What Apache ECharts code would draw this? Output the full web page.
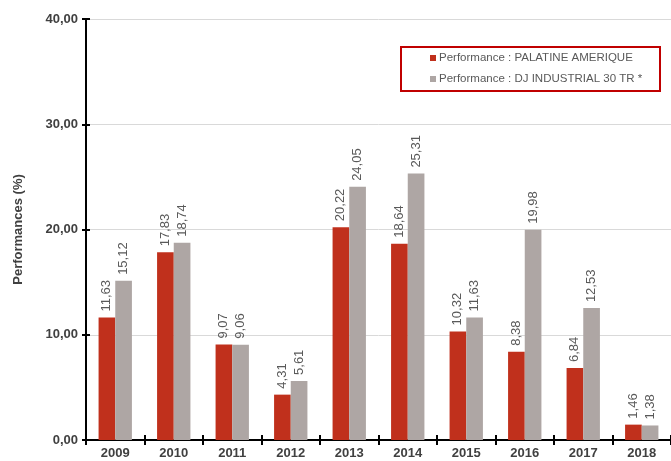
<!DOCTYPE html>
<html><head><meta charset="utf-8">
<script src="https://cdn.jsdelivr.net/npm/echarts@6/dist/echarts.min.js"></script>
<style>html,body{margin:0;padding:0;background:#fff}#c{width:671px;height:461px}</style>
</head><body><div id="c"></div>
<script>
const years = ['2009','2010','2011','2012','2013','2014','2015','2016','2017','2018'];
const palatine = [11.63,17.83,9.07,4.31,20.22,18.64,10.32,8.38,6.84,1.46];
const djIndustrial = [15.12,18.74,9.06,5.61,24.05,25.31,11.63,19.98,12.53,1.38];
const seriesNames = ['Performance : PALATINE AMERIQUE','Performance : DJ INDUSTRIAL 30 TR *'];
const yTicks = [0,10,20,30,40];

const fmt = v => v.toFixed(2).replace('.', ',');
const FONT = '"Liberation Sans", Arial, sans-serif';
const chart = echarts.init(document.getElementById('c'), null, {renderer:'canvas'});
const labelCfg = {
  show:true, rotate:90, position:'top', align:'left', verticalAlign:'middle', distance:6,
  fontFamily:FONT, fontSize:13, color:'#595959', formatter:p=>fmt(p.value)
};
chart.setOption({
  animation:false,
  textStyle:{fontFamily:FONT},
  grid:{left:86, right:0, top:19, bottom:21, containLabel:false},
  legend:{
    orient:'vertical', left:425, top:47, itemWidth:6, itemHeight:6, itemGap:9, icon:'rect',
    textStyle:{fontFamily:FONT, fontSize:11.5, color:'#595959', padding:[0,0,0,-2]},
    data:seriesNames
  },
  graphic:[{type:'rect', shape:{x:401, y:47, width:259, height:44}, style:{fill:'none', stroke:'#C00000', lineWidth:2}}],
  xAxis:[{
    type:'category', data:years,
    axisLine:{lineStyle:{color:'#000', width:2}},
    axisTick:{show:true, length:5, lineStyle:{color:'#000', width:2}},
    axisLabel:{fontFamily:FONT, fontSize:13, fontWeight:'bold', color:'#404040', margin:7}
  },{
    type:'category', data:years, position:'bottom',
    axisLine:{show:false},
    axisTick:{show:true, inside:true, length:5, lineStyle:{color:'#000', width:2}},
    axisLabel:{show:false}
  }],
  yAxis:[{
    type:'value', min:yTicks[0], max:yTicks[yTicks.length-1], interval:10,
    name:'Performances (%)', nameLocation:'middle', nameGap:61, nameRotate:90,
    nameTextStyle:{fontFamily:FONT, fontSize:13, fontWeight:'bold', color:'#404040'},
    axisLine:{show:true, lineStyle:{color:'#000', width:2}},
    axisTick:{show:true, length:4, lineStyle:{color:'#000', width:2}},
    axisLabel:{fontFamily:FONT, fontSize:13, fontWeight:'bold', color:'#404040', margin:8, formatter:v=>fmt(v)},
    splitLine:{show:true, lineStyle:{color:'#D9D9D9', width:1}}
  },{
    type:'value', min:0, max:40, interval:10, position:'left',
    axisLine:{show:false}, axisTick:{show:true, inside:true, length:4, lineStyle:{color:'#000', width:2}},
    axisLabel:{show:false}, splitLine:{show:false}
  }],
  series:[{
    name:seriesNames[0], type:'bar', data:palatine, barGap:'0%', barCategoryGap:'43%',
    itemStyle:{color:'#C0301C'}, label:labelCfg
  },{
    name:seriesNames[1], type:'bar', data:djIndustrial, barGap:'0%', barCategoryGap:'43%',
    itemStyle:{color:'#AEA6A4'}, label:labelCfg
  }]
});
</script></body></html>
